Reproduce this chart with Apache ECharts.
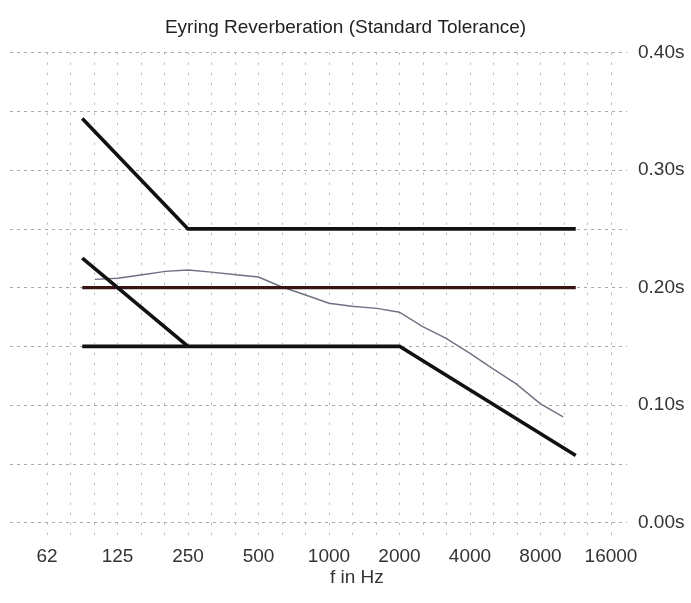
<!DOCTYPE html>
<html>
<head>
<meta charset="utf-8">
<script src="https://cdn.jsdelivr.net/npm/echarts@6/dist/echarts.min.js"></script>
<style>html,body{margin:0;padding:0;background:#fff;}#c{width:691px;height:603px;}</style>
</head>
<body>
<div id="c"></div>
<script>
// ---- data ----
var xTickLabels = ['62','125','250','500','1000','2000','4000','8000','16000'];
var yTickLabels = ['0.00s','0.10s','0.20s','0.30s','0.40s'];
var baseFreq = 62.5;

var upperFreq = [88.4, 250, 11314];
var upperVal  = [0.344, 0.25, 0.25];

var lowerAFreq = [88.4, 250];
var lowerAVal  = [0.225, 0.15];

var lowerBFreq = [88.4, 2000, 11314];
var lowerBVal  = [0.15, 0.15, 0.057];

var targetFreq = [88.4, 11314];
var targetVal  = [0.20, 0.20];

var measFreq = [100,125,160,200,250,315,400,500,630,800,1000,1250,1600,2000,2500,3150,4000,5000,6300,8000,10000];
var measVal  = [0.207,0.208,0.211,0.2138,0.215,0.2132,0.211,0.209,0.2005,0.1935,0.1867,0.1841,0.1823,0.179,0.167,0.157,0.144,0.131,0.118,0.101,0.090];

function pts(fs, vs){
  return fs.map(function(f,i){ return [Math.log2(f/baseFreq), vs[i]]; });
}

var chart = echarts.init(document.getElementById('c'), null, {renderer:'canvas'});
var FONT = '"Liberation Sans", Arial, sans-serif';

function lineSeries(name, data, color, width, z){
  return {
    name: name, type:'line', xAxisIndex:1, yAxisIndex:1,
    data: data, showSymbol:false, symbol:'none', z: z,
    lineStyle:{color:color, width:width, cap:'butt', join:'miter'},
    silent:true
  };
}

chart.setOption({
  animation:false,
  backgroundColor:'#ffffff',
  title:{
    text:'Eyring Reverberation (Standard Tolerance)',
    left:'center', top:13,
    textStyle:{fontFamily:FONT, fontSize:19, fontWeight:'normal', color:'#222'}
  },
  grid:[
    {left:10, right:64, top:52.7, bottom:80.5},
    {left:47, right:80, top:52.7, bottom:66}
  ],
  xAxis:[
    {gridIndex:0, type:'value', min:0, max:1, show:false},
    {gridIndex:1, type:'value', min:0, max:8, interval:1/3,
      axisLine:{show:false}, axisTick:{show:false},
      splitLine:{show:true, lineStyle:{color:'#b4b4b4', width:1, type:[2,8]}},
      axisLabel:{
        margin:10, fontFamily:FONT, fontSize:19, color:'#333',
        formatter:function(v){
          var r = Math.round(v);
          if (Math.abs(v - r) < 1e-6 && r >= 0 && r < xTickLabels.length) return xTickLabels[r];
          return '';
        }
      }
    }
  ],
  yAxis:[
    {gridIndex:0, type:'value', position:'right', min:0, max:0.4, interval:0.05,
      axisLine:{show:false}, axisTick:{show:false},
      splitLine:{show:true, lineStyle:{color:'#a8a8a8', width:1, type:[3,4]}},
      axisLabel:{
        margin:11, fontFamily:FONT, fontSize:19, color:'#333',
        formatter:function(v){
          var k = v/0.1, r = Math.round(k);
          if (Math.abs(k - r) < 1e-6 && r >= 0 && r < yTickLabels.length) return yTickLabels[r];
          return '';
        }
      }
    },
    {gridIndex:1, type:'value', min:-0.01234, max:0.4, show:false}
  ],
  graphic:[
    {type:'text', left:330, top:568, style:{text:'f in Hz', font:'19px ' + FONT, fill:'#333'}}
  ],
  series:[
    lineSeries('measured', pts(measFreq, measVal), '#707082', 1.4, 2),
    lineSeries('target', pts(targetFreq, targetVal), '#3a1414', 3.2, 3),
    lineSeries('upper', pts(upperFreq, upperVal), '#111', 3.6, 4),
    lineSeries('lowerA', pts(lowerAFreq, lowerAVal), '#111', 3.6, 4),
    lineSeries('lowerB', pts(lowerBFreq, lowerBVal), '#111', 3.6, 4)
  ]
});
</script>
</body>
</html>
